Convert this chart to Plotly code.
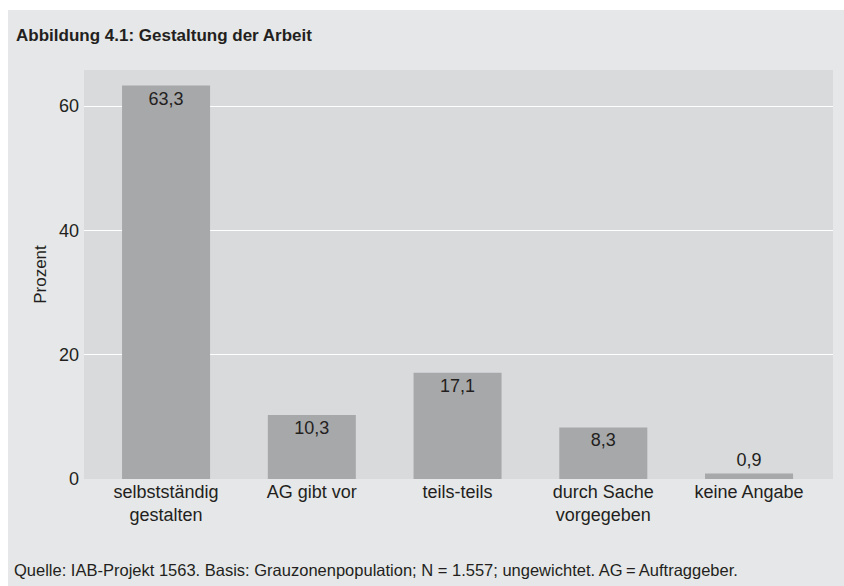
import plotly.graph_objects as go

categories = ["selbstständig<br>gestalten", "AG gibt vor", "teils-teils", "durch Sache<br>vorgegeben", "keine Angabe"]
values = [63.3, 10.3, 17.1, 8.3, 0.9]
value_labels = ["63,3", "10,3", "17,1", "8,3", "0,9"]
y_ticks = [0, 20, 40, 60]

title_text = "Abbildung 4.1: Gestaltung der Arbeit"
footer_text = "Quelle: IAB-Projekt 1563. Basis: Grauzonenpopulation; N = 1.557; ungewichtet. AG\u2009=\u2009Auftraggeber."

W, H = 844, 586
L, R, T, B = 84, 11, 70, 107
pw, ph = W - L - R, H - T - B

outer_bg = "#e6e7e8"
plot_bg = "#d9dadc"
bar_col = "#a7a8aa"
txt = "#231f20"
num_font = "Liberation Sans, Arial, sans-serif"

fig = go.Figure(go.Bar(
    x=list(range(len(categories))), y=values,
    text=value_labels,
    textposition=["inside", "inside", "inside", "inside", "outside"],
    insidetextanchor="end",
    constraintext="none",
    textfont=dict(family=num_font, size=18, color=txt),
    marker=dict(color=bar_col, line=dict(width=0)),
    width=0.604,
    cliponaxis=False,
    hoverinfo="skip",
))

def px2paper_x(px):
    return (px - L) / pw

def px2paper_y(py):
    return (H - B - py) / ph

fig.update_layout(
    width=W, height=H,
    margin=dict(l=L, r=R, t=T, b=B, autoexpand=False),
    paper_bgcolor="white",
    plot_bgcolor="rgba(0,0,0,0)",
    showlegend=False,
    shapes=[
        dict(type="rect", xref="paper", yref="paper", layer="below",
             x0=px2paper_x(8), x1=px2paper_x(W + 5), y0=px2paper_y(H + 5), y1=px2paper_y(10),
             fillcolor=outer_bg, line=dict(width=0)),
        dict(type="rect", xref="paper", yref="paper", layer="below",
             x0=0, x1=1, y0=0, y1=1, fillcolor=plot_bg, line=dict(width=0)),
    ],
    title=dict(text=title_text, x=16 / W, xanchor="left", xref="container",
               y=1 - 35 / H, yanchor="middle", yref="container",
               font=dict(family=num_font, size=17, color=txt, weight="bold")),
    annotations=[
        dict(text=footer_text, xref="paper", yref="paper", x=px2paper_x(12), y=px2paper_y(570),
             xanchor="left", yanchor="middle", showarrow=False,
             font=dict(family=num_font, size=16.5, color=txt)),
    ],
    xaxis=dict(
        range=[-0.563, 4.576],
        tickmode="array", tickvals=list(range(len(categories))), ticktext=categories,
        showgrid=False, zeroline=False, showline=False, ticks="",
        tickfont=dict(family=num_font, size=18, color=txt),
        automargin=False, fixedrange=True,
    ),
    yaxis=dict(
        range=[0, 65.8],
        tickmode="array", tickvals=y_ticks, ticktext=[str(v) for v in y_ticks],
        showgrid=True, gridcolor="white", gridwidth=1,
        zeroline=False, showline=False, ticks="",
        ticklabelstandoff=4,
        tickfont=dict(family=num_font, size=18, color=txt),
        title=dict(text="Prozent", font=dict(family=num_font, size=17, color=txt), standoff=8),
        automargin=False, fixedrange=True,
    ),
)

fig.write_html(
    "out.html",
    config={"displayModeBar": False},
    post_script="document.body.style.margin='0';document.documentElement.style.overflow='hidden';",
)
